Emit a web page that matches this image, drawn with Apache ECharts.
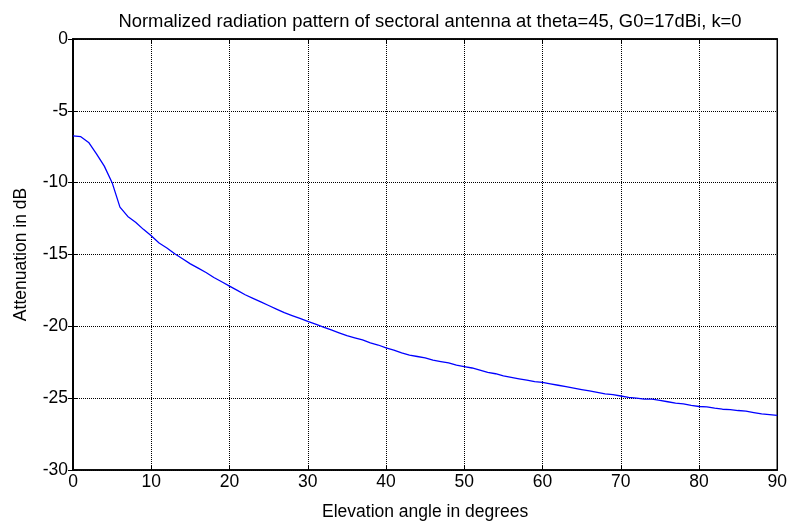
<!DOCTYPE html>
<html>
<head>
<meta charset="utf-8">
<script src="https://cdn.jsdelivr.net/npm/echarts@6/dist/echarts.min.js"></script>
<style>html,body{margin:0;padding:0;background:#fff}#c{width:790px;height:526px}</style>
</head>
<body>
<div id="c"></div>
<script>
const titleText = 'Normalized radiation pattern of sectoral antenna at theta=45, G0=17dBi, k=0';
const xName = 'Elevation angle in degrees';
const yName = 'Attenuation in dB';
const elevation = [];
for (let i = 0; i <= 90; i++) elevation.push(i);
const attenuation = [
 -6.75,-6.8,-7.2,-8.0,-8.85,-10.0,-11.7,-12.35,-12.75,-13.25,
 -13.7,-14.2,-14.55,-14.95,-15.3,-15.65,-15.95,-16.25,-16.6,-16.9,
 -17.2,-17.5,-17.8,-18.05,-18.3,-18.55,-18.8,-19.05,-19.25,-19.45,
 -19.65,-19.85,-20.05,-20.25,-20.45,-20.65,-20.8,-20.95,-21.15,-21.3,
 -21.5,-21.65,-21.85,-22.0,-22.1,-22.2,-22.35,-22.45,-22.55,-22.7,
 -22.8,-22.9,-23.05,-23.2,-23.3,-23.45,-23.55,-23.65,-23.75,-23.85,
 -23.9,-24.0,-24.1,-24.2,-24.3,-24.4,-24.5,-24.6,-24.7,-24.75,
 -24.85,-24.95,-25.0,-25.07,-25.07,-25.15,-25.25,-25.35,-25.4,-25.5,
 -25.58,-25.6,-25.7,-25.77,-25.8,-25.86,-25.9,-26.0,-26.1,-26.15,
 -26.2
];
const xTicks = {min: 0, max: 90, interval: 10};
const yTicks = {min: -30, max: 0, interval: 5};

const font = 'Liberation Sans, Arial, sans-serif';
const fs = 17.5;
const chart = echarts.init(document.getElementById('c'), null, {renderer: 'canvas'});
const gridLine = {show: true, lineStyle: {color: '#000', type: [1, 1], width: 1}};
chart.setOption({
  animation: false,
  backgroundColor: '#fff',
  title: {
    text: titleText, left: 425, top: 8, textAlign: 'center',
    textStyle: {fontFamily: font, fontSize: 18.4, fontWeight: 'normal', color: '#000'}
  },
  grid: {left: 73, right: 10, top: 39, bottom: 55, show: true, borderColor: '#000', borderWidth: 1.5},
  xAxis: [{
    type: 'value', min: xTicks.min, max: xTicks.max, interval: xTicks.interval,
    name: xName, nameLocation: 'middle', nameGap: 33,
    nameTextStyle: {fontFamily: font, fontSize: fs, color: '#000'},
    axisLine: {show: true, onZero: false, lineStyle: {color: '#000', width: 1.5}},
    axisTick: {show: true, inside: true, length: 5, lineStyle: {color: '#000'}},
    axisLabel: {fontFamily: font, fontSize: fs, color: '#000', margin: 3},
    splitLine: gridLine
  }, {
    type: 'value', position: 'top', min: xTicks.min, max: xTicks.max, interval: xTicks.interval,
    axisLine: {show: true, lineStyle: {color: '#000', width: 1.5}},
    axisTick: {show: true, inside: true, length: 5, lineStyle: {color: '#000'}},
    axisLabel: {show: false}, splitLine: {show: false}
  }],
  yAxis: [{
    type: 'value', min: yTicks.min, max: yTicks.max, interval: yTicks.interval,
    name: yName, nameLocation: 'middle', nameGap: 43, nameRotate: 90,
    nameTextStyle: {fontFamily: font, fontSize: fs, color: '#000'},
    axisLine: {show: true, onZero: false, lineStyle: {color: '#000', width: 1.5}},
    axisTick: {show: true, inside: true, length: 5, lineStyle: {color: '#000'}},
    axisLabel: {fontFamily: font, fontSize: fs, color: '#000', margin: 5},
    splitLine: gridLine
  }, {
    type: 'value', position: 'right', min: yTicks.min, max: yTicks.max, interval: yTicks.interval,
    axisLine: {show: true, lineStyle: {color: '#000', width: 1.5}},
    axisTick: {show: true, inside: true, length: 5, lineStyle: {color: '#000'}},
    axisLabel: {show: false}, splitLine: {show: false}
  }],
  series: [{
    type: 'line',
    data: elevation.map((x, i) => [x, attenuation[i]]),
    showSymbol: false, symbol: 'none',
    lineStyle: {color: '#0000ff', width: 1.3},
    itemStyle: {color: '#0000ff'}
  }]
});
</script>
</body>
</html>
